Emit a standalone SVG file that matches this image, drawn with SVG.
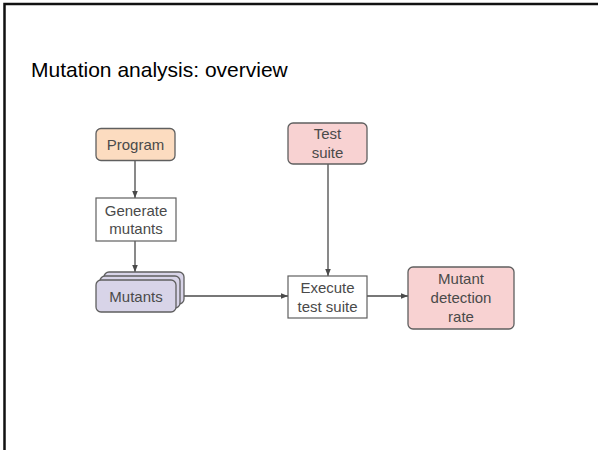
<svg xmlns="http://www.w3.org/2000/svg" width="598" height="450" viewBox="0 0 598 450">
  <style>
    .title { font-family: "Liberation Sans", Arial, sans-serif; font-size: 21px; fill: #000; }
    .lbl { font-family: "Liberation Sans", Arial, sans-serif; font-size: 15px; fill: #4a4a4a; text-anchor: middle; }
    .box { stroke: #5f5f5f; stroke-width: 1.3; }
    .plain { fill: #fff; stroke: #5f5f5f; stroke-width: 1.2; }
    .edge { stroke: #4a4a4a; stroke-width: 1.3; fill: none; marker-end: url(#arrow); }
  </style>
  <defs>
    <marker id="arrow" viewBox="0 0 10 10" refX="10" refY="5" markerWidth="7" markerHeight="7" markerUnits="userSpaceOnUse" orient="auto">
      <path d="M0,1 L10,5 L0,9 z" fill="#4a4a4a"/>
    </marker>
  </defs>

  <rect width="598" height="450" fill="#fff"/>
  <!-- slide frame -->
  <rect x="4.5" y="4" width="620" height="480" fill="none" stroke="#111" stroke-width="2.5"/>

  <text class="title" x="31" y="77">Mutation analysis: overview</text>

  <g id="connectors">
    <line class="edge" x1="135" y1="161" x2="135" y2="198"/>
    <line class="edge" x1="135" y1="241" x2="135" y2="272"/>
    <line class="edge" x1="184" y1="296" x2="288" y2="296"/>
    <line class="edge" x1="328" y1="164" x2="328" y2="276"/>
    <line class="edge" x1="367" y1="296" x2="408" y2="296"/>
  </g>

  <g id="program">
    <rect class="box" x="96" y="128.5" width="79" height="32" rx="5" fill="#fcdcc0"/>
    <text class="lbl" x="135.5" y="150">Program</text>
  </g>

  <g id="generate-mutants">
    <rect class="plain" x="96" y="198" width="80" height="43"/>
    <text class="lbl" x="136" y="216">Generate</text>
    <text class="lbl" x="136" y="234">mutants</text>
  </g>

  <g id="mutants">
    <rect class="box" x="104" y="272" width="80" height="32" rx="5" fill="#d8d4e8"/>
    <rect class="box" x="100" y="276" width="80" height="32" rx="5" fill="#d8d4e8"/>
    <rect class="box" x="96" y="280" width="80" height="32" rx="5" fill="#d8d4e8"/>
    <text class="lbl" x="136" y="302">Mutants</text>
  </g>

  <g id="test-suite">
    <rect class="box" x="288" y="123" width="79" height="41" rx="5" fill="#f8d2d2"/>
    <text class="lbl" x="327.5" y="139">Test</text>
    <text class="lbl" x="327.5" y="158">suite</text>
  </g>

  <g id="execute-test-suite">
    <rect class="plain" x="288" y="276" width="79" height="42"/>
    <text class="lbl" x="327.5" y="293">Execute</text>
    <text class="lbl" x="327.5" y="312">test suite</text>
  </g>

  <g id="detection-rate">
    <rect class="box" x="408" y="267" width="106" height="62" rx="5" fill="#f8d2d2"/>
    <text class="lbl" x="461" y="284">Mutant</text>
    <text class="lbl" x="461" y="303">detection</text>
    <text class="lbl" x="461" y="322">rate</text>
  </g>
</svg>
